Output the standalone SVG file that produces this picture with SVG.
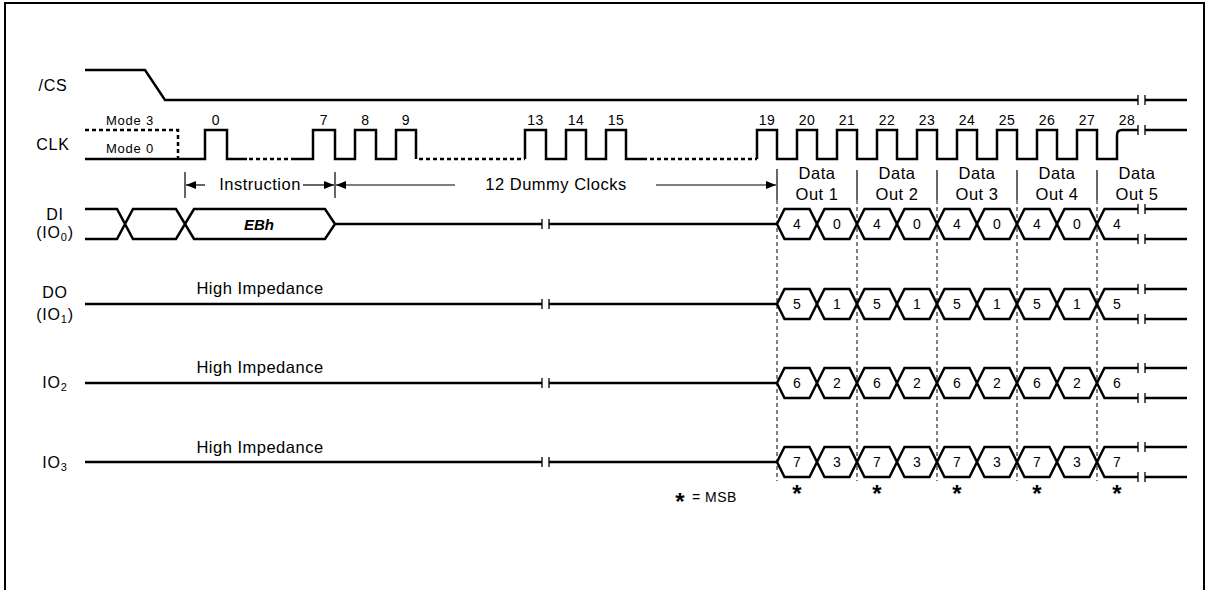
<svg xmlns="http://www.w3.org/2000/svg" width="1208" height="590" viewBox="0 0 1208 590">
<style>
.sig{fill:none;stroke:#000;stroke-width:2.5;stroke-linejoin:miter}
.dot{fill:none;stroke:#000;stroke-width:2.5;stroke-dasharray:4,3}
.hex{fill:#fff;stroke:#000;stroke-width:2.5;stroke-linejoin:miter}
.brk{stroke:#000;stroke-width:1.3}
.thin{stroke:#000;stroke-width:1.2;fill:none}
.dash{stroke:#000;stroke-width:1;stroke-dasharray:4,3;fill:none}
text{font-family:"Liberation Sans",Arial,sans-serif;fill:#000}
.lbl{font-size:16px;letter-spacing:0.8px;text-anchor:middle}
.big{font-size:16.5px;letter-spacing:0.5px;text-anchor:middle}
.num{font-size:14px;letter-spacing:0.5px;text-anchor:middle}
.mode{font-size:13px;letter-spacing:0.8px;text-anchor:middle}
.hx{font-size:14px;text-anchor:middle}
.star{font-size:24px;font-weight:bold;text-anchor:middle}
.sub{font-size:11px}
</style>
<defs>
<marker id="arr" markerUnits="userSpaceOnUse" markerWidth="11" markerHeight="8" refX="10" refY="4" orient="auto">
<path d="M0,0 L10,4 L0,8 z" fill="#000"/>
</marker>
<g id="brk"><line class="brk" x1="0" y1="-5" x2="0" y2="5"/><line class="brk" x1="7" y1="-5" x2="7" y2="5"/></g>
</defs>
<rect x="5" y="3" width="1199" height="600" fill="#fff" stroke="#000" stroke-width="2"/>

<g id="cs">
<text class="lbl" x="53" y="91">/CS</text>
<path class="sig" d="M85,70 L145,70 L165,100 L1138,100"/>
<use href="#brk" x="1138" y="100"/>
<path class="sig" d="M1145,100 L1187,100"/>
</g>

<g id="clk">
<text class="lbl" x="53" y="150">CLK</text>
<text class="mode" x="130" y="125">Mode 3</text>
<text class="mode" x="130" y="153">Mode 0</text>
<path class="dot" d="M85,130 L178,130 L178,159"/>
<path class="sig" d="M85,159 L205,159 L205,130 L227,130 L227,159 L247,159"/>
<path class="dot" d="M249,159 L295,159"/>
<path class="sig" d="M295,159 L313,159 L313,130 L335,130 L335,159 L355,159 L355,130 L376,130 L376,159 L396,159 L396,130 L416,130 L416,159"/>
<path class="dot" d="M419,159 L525,159"/>
<path class="sig" d="M525,159 L525,130 L546,130 L546,159 L566,159 L566,130 L586,130 L586,159 L606,159 L606,130 L626,130 L626,159 L647,159"/>
<path class="dot" d="M650,159 L757,159"/>
<path class="sig" d="M757,159 L757,130 L777,130 L777,159 L797,159 L797,130 L817,130 L817,159 L837,159 L837,130 L857,130 L857,159 L877,159 L877,130 L897,130 L897,159 L917,159 L917,130 L937,130 L937,159 L957,159 L957,130 L977,130 L977,159 L997,159 L997,130 L1017,130 L1017,159 L1037,159 L1037,130 L1057,130 L1057,159 L1077,159 L1077,130 L1097,130 L1097,159 L1117,159 L1117,135 Q1117,130 1122,130 L1138,130"/>
<use href="#brk" x="1138" y="130"/>
<path class="sig" d="M1145,130 L1187,130"/>
<text class="num" x="216" y="125">0</text>
<text class="num" x="324" y="125">7</text>
<text class="num" x="365.5" y="125">8</text>
<text class="num" x="406" y="125">9</text>
<text class="num" x="535.5" y="125">13</text>
<text class="num" x="576" y="125">14</text>
<text class="num" x="616" y="125">15</text>
<text class="num" x="767" y="125">19</text>
<text class="num" x="807" y="125">20</text>
<text class="num" x="847" y="125">21</text>
<text class="num" x="887" y="125">22</text>
<text class="num" x="927" y="125">23</text>
<text class="num" x="967" y="125">24</text>
<text class="num" x="1007" y="125">25</text>
<text class="num" x="1047" y="125">26</text>
<text class="num" x="1087" y="125">27</text>
<text class="num" x="1127" y="125">28</text>
</g>

<g id="connectors">
<line class="thin" x1="185" y1="172" x2="185" y2="198"/>
<line class="thin" x1="335" y1="172" x2="335" y2="198"/>
<line class="thin" x1="205" y1="185" x2="186" y2="185" marker-end="url(#arr)"/>
<line class="thin" x1="303" y1="185" x2="334" y2="185" marker-end="url(#arr)"/>
<line class="thin" x1="455" y1="185" x2="336" y2="185" marker-end="url(#arr)"/>
<line class="thin" x1="656" y1="185" x2="776" y2="185" marker-end="url(#arr)"/>
<line class="thin" x1="777" y1="169" x2="777" y2="200"/>
<line class="thin" x1="857" y1="170" x2="857" y2="200"/>
<line class="thin" x1="937" y1="170" x2="937" y2="200"/>
<line class="thin" x1="1017" y1="170" x2="1017" y2="200"/>
<line class="thin" x1="1097" y1="170" x2="1097" y2="200"/>
<line class="dash" x1="777" y1="200" x2="777" y2="481"/>
<line class="dash" x1="857" y1="200" x2="857" y2="481"/>
<line class="dash" x1="937" y1="200" x2="937" y2="481"/>
<line class="dash" x1="1017" y1="200" x2="1017" y2="481"/>
<line class="dash" x1="1097" y1="200" x2="1097" y2="481"/>
<text class="big" x="260" y="190">Instruction</text>
<text class="big" x="556" y="190">12 Dummy Clocks</text>
<text class="big" x="817" y="179">Data</text>
<text class="big" x="817" y="200">Out 1</text>
<text class="big" x="897" y="179">Data</text>
<text class="big" x="897" y="200">Out 2</text>
<text class="big" x="977" y="179">Data</text>
<text class="big" x="977" y="200">Out 3</text>
<text class="big" x="1057" y="179">Data</text>
<text class="big" x="1057" y="200">Out 4</text>
<text class="big" x="1137" y="179">Data</text>
<text class="big" x="1137" y="200">Out 5</text>
</g>

<g id="di">
<text class="lbl" x="55" y="220">DI</text>
<text class="lbl" x="55" y="238">(IO<tspan class="sub" dy="3">0</tspan><tspan dy="-3">)</tspan></text>
<path class="sig" d="M85,209 L117,209 L133,239 L176,239 L194,209 L325,209 L335,224 L325,239 L194,239 L176,209 L133,209 L117,239 L85,239"/>
<text x="259" y="230" style="font-size:15px;font-weight:bold;font-style:italic;text-anchor:middle">EBh</text>
<path class="sig" d="M335,224 L542,224"/>
<use href="#brk" x="542" y="224"/>
<path class="sig" d="M549,224 L777,224"/>
<g id="di-bus">
<polygon class="hex" points="777,224 784.5,209 809.5,209 817,224 809.5,239 784.5,239"/>
<polygon class="hex" points="817,224 824.5,209 849.5,209 857,224 849.5,239 824.5,239"/>
<polygon class="hex" points="857,224 864.5,209 889.5,209 897,224 889.5,239 864.5,239"/>
<polygon class="hex" points="897,224 904.5,209 929.5,209 937,224 929.5,239 904.5,239"/>
<polygon class="hex" points="937,224 944.5,209 969.5,209 977,224 969.5,239 944.5,239"/>
<polygon class="hex" points="977,224 984.5,209 1009.5,209 1017,224 1009.5,239 984.5,239"/>
<polygon class="hex" points="1017,224 1024.5,209 1049.5,209 1057,224 1049.5,239 1024.5,239"/>
<polygon class="hex" points="1057,224 1064.5,209 1089.5,209 1097,224 1089.5,239 1064.5,239"/>
<path class="sig" d="M1138,209 L1104.5,209 L1097,224 L1104.5,239 L1138,239"/>
<use href="#brk" x="1138" y="209"/><use href="#brk" x="1138" y="239"/>
<path class="sig" d="M1145,209 L1187,209 M1145,239 L1187,239"/>
<text class="hx" x="797" y="229">4</text><text class="hx" x="837" y="229">0</text>
<text class="hx" x="877" y="229">4</text><text class="hx" x="917" y="229">0</text>
<text class="hx" x="957" y="229">4</text><text class="hx" x="997" y="229">0</text>
<text class="hx" x="1037" y="229">4</text><text class="hx" x="1077" y="229">0</text>
<text class="hx" x="1117" y="229">4</text>
</g>
</g>

<g id="do">
<text class="lbl" x="55" y="298">DO</text>
<text class="lbl" x="55" y="320">(IO<tspan class="sub" dy="3">1</tspan><tspan dy="-3">)</tspan></text>
<text class="big" x="260" y="294">High Impedance</text>
<path class="sig" d="M85,304 L542,304"/>
<use href="#brk" x="542" y="304"/>
<path class="sig" d="M549,304 L777,304"/>
<polygon class="hex" points="777,304 784.5,289 809.5,289 817,304 809.5,319 784.5,319"/>
<polygon class="hex" points="817,304 824.5,289 849.5,289 857,304 849.5,319 824.5,319"/>
<polygon class="hex" points="857,304 864.5,289 889.5,289 897,304 889.5,319 864.5,319"/>
<polygon class="hex" points="897,304 904.5,289 929.5,289 937,304 929.5,319 904.5,319"/>
<polygon class="hex" points="937,304 944.5,289 969.5,289 977,304 969.5,319 944.5,319"/>
<polygon class="hex" points="977,304 984.5,289 1009.5,289 1017,304 1009.5,319 984.5,319"/>
<polygon class="hex" points="1017,304 1024.5,289 1049.5,289 1057,304 1049.5,319 1024.5,319"/>
<polygon class="hex" points="1057,304 1064.5,289 1089.5,289 1097,304 1089.5,319 1064.5,319"/>
<path class="sig" d="M1138,289 L1104.5,289 L1097,304 L1104.5,319 L1138,319"/>
<use href="#brk" x="1138" y="289"/><use href="#brk" x="1138" y="319"/>
<path class="sig" d="M1145,289 L1187,289 M1145,319 L1187,319"/>
<text class="hx" x="797" y="309">5</text><text class="hx" x="837" y="309">1</text>
<text class="hx" x="877" y="309">5</text><text class="hx" x="917" y="309">1</text>
<text class="hx" x="957" y="309">5</text><text class="hx" x="997" y="309">1</text>
<text class="hx" x="1037" y="309">5</text><text class="hx" x="1077" y="309">1</text>
<text class="hx" x="1117" y="309">5</text>
</g>

<g id="io2">
<text class="lbl" x="55" y="388">IO<tspan class="sub" dy="3">2</tspan></text>
<text class="big" x="260" y="373">High Impedance</text>
<path class="sig" d="M85,383 L542,383"/>
<use href="#brk" x="542" y="383"/>
<path class="sig" d="M549,383 L777,383"/>
<polygon class="hex" points="777,383 784.5,368 809.5,368 817,383 809.5,398 784.5,398"/>
<polygon class="hex" points="817,383 824.5,368 849.5,368 857,383 849.5,398 824.5,398"/>
<polygon class="hex" points="857,383 864.5,368 889.5,368 897,383 889.5,398 864.5,398"/>
<polygon class="hex" points="897,383 904.5,368 929.5,368 937,383 929.5,398 904.5,398"/>
<polygon class="hex" points="937,383 944.5,368 969.5,368 977,383 969.5,398 944.5,398"/>
<polygon class="hex" points="977,383 984.5,368 1009.5,368 1017,383 1009.5,398 984.5,398"/>
<polygon class="hex" points="1017,383 1024.5,368 1049.5,368 1057,383 1049.5,398 1024.5,398"/>
<polygon class="hex" points="1057,383 1064.5,368 1089.5,368 1097,383 1089.5,398 1064.5,398"/>
<path class="sig" d="M1138,368 L1104.5,368 L1097,383 L1104.5,398 L1138,398"/>
<use href="#brk" x="1138" y="368"/><use href="#brk" x="1138" y="398"/>
<path class="sig" d="M1145,368 L1187,368 M1145,398 L1187,398"/>
<text class="hx" x="797" y="388">6</text><text class="hx" x="837" y="388">2</text>
<text class="hx" x="877" y="388">6</text><text class="hx" x="917" y="388">2</text>
<text class="hx" x="957" y="388">6</text><text class="hx" x="997" y="388">2</text>
<text class="hx" x="1037" y="388">6</text><text class="hx" x="1077" y="388">2</text>
<text class="hx" x="1117" y="388">6</text>
</g>

<g id="io3">
<text class="lbl" x="55" y="468">IO<tspan class="sub" dy="3">3</tspan></text>
<text class="big" x="260" y="453">High Impedance</text>
<path class="sig" d="M85,462 L542,462"/>
<use href="#brk" x="542" y="462"/>
<path class="sig" d="M549,462 L777,462"/>
<polygon class="hex" points="777,462 784.5,447 809.5,447 817,462 809.5,477 784.5,477"/>
<polygon class="hex" points="817,462 824.5,447 849.5,447 857,462 849.5,477 824.5,477"/>
<polygon class="hex" points="857,462 864.5,447 889.5,447 897,462 889.5,477 864.5,477"/>
<polygon class="hex" points="897,462 904.5,447 929.5,447 937,462 929.5,477 904.5,477"/>
<polygon class="hex" points="937,462 944.5,447 969.5,447 977,462 969.5,477 944.5,477"/>
<polygon class="hex" points="977,462 984.5,447 1009.5,447 1017,462 1009.5,477 984.5,477"/>
<polygon class="hex" points="1017,462 1024.5,447 1049.5,447 1057,462 1049.5,477 1024.5,477"/>
<polygon class="hex" points="1057,462 1064.5,447 1089.5,447 1097,462 1089.5,477 1064.5,477"/>
<path class="sig" d="M1138,447 L1104.5,447 L1097,462 L1104.5,477 L1138,477"/>
<use href="#brk" x="1138" y="447"/><use href="#brk" x="1138" y="477"/>
<path class="sig" d="M1145,447 L1187,447 M1145,477 L1187,477"/>
<text class="hx" x="797" y="467">7</text><text class="hx" x="837" y="467">3</text>
<text class="hx" x="877" y="467">7</text><text class="hx" x="917" y="467">3</text>
<text class="hx" x="957" y="467">7</text><text class="hx" x="997" y="467">3</text>
<text class="hx" x="1037" y="467">7</text><text class="hx" x="1077" y="467">3</text>
<text class="hx" x="1117" y="467">7</text>
</g>

<g id="msb">
<text class="star" x="797" y="502">*</text>
<text class="star" x="877" y="502">*</text>
<text class="star" x="957" y="502">*</text>
<text class="star" x="1037" y="502">*</text>
<text class="star" x="1117" y="502">*</text>
<text class="star" x="680" y="510">*</text>
<text x="692" y="502" style="font-size:14px;letter-spacing:0.5px">= MSB</text>
</g>
</svg>
